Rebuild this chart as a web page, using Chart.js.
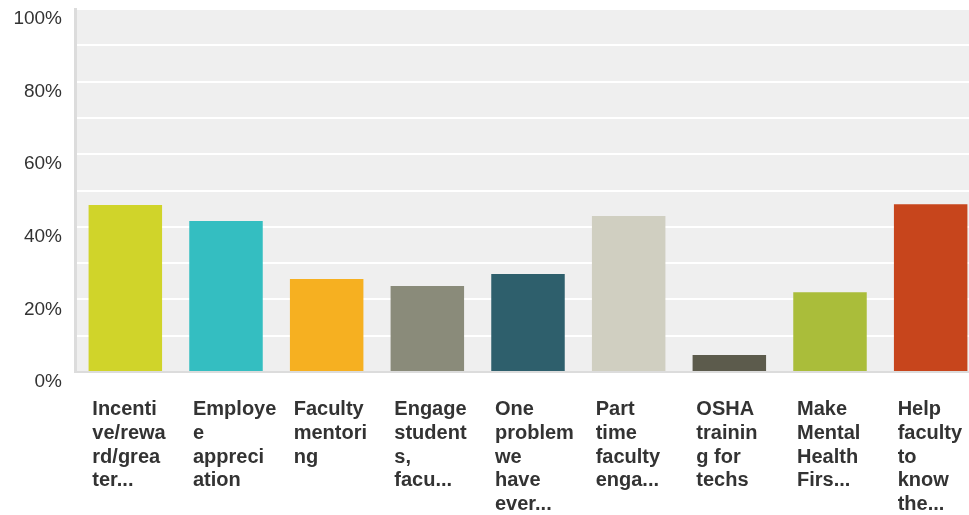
<!DOCTYPE html>
<html>
<head>
<meta charset="utf-8">
<script src="https://cdn.jsdelivr.net/npm/chart.js@4"></script>
<style>
  html, body { margin: 0; padding: 0; background: #fff; overflow: hidden; }
  #wrap { width: 981px; height: 515px; }
</style>
</head>
<body>
<div id="wrap"><canvas id="myChart" width="981" height="515"></canvas></div>
<script>
var categories = [
    ['Incenti', 've/rewa', 'rd/grea', 'ter...'],
    ['Employe', 'e', 'appreci', 'ation'],
    ['Faculty', 'mentori', 'ng'],
    ['Engage', 'student', 's,', 'facu...'],
    ['One', 'problem', 'we', 'have', 'ever...'],
    ['Part', 'time', 'faculty', 'enga...'],
    ['OSHA', 'trainin', 'g for', 'techs'],
    ['Make', 'Mental', 'Health', 'Firs...'],
    ['Help', 'faculty', 'to', 'know', 'the...']
];
var percentValues = [46.0, 41.6, 25.6, 23.7, 27.0, 43.0, 4.7, 22.0, 46.2];
var barColors = ['#d0d42a', '#34bec1', '#f6b021', '#8a8b7a', '#2e5f6c', '#d0cfc1', '#5c5b4c', '#aabd3a', '#c7451c'];
var yTickValues = [0, 20, 40, 60, 80, 100];

var plotBackground = {
    id: 'plotBackground',
    beforeDraw: function(chart) {
        var a = chart.chartArea;
        var c = chart.ctx;
        c.save();
        c.fillStyle = '#efefef';
        c.fillRect(a.left, a.top, a.right - a.left, a.bottom - a.top);
        c.restore();
    }
};

var ctx = document.getElementById('myChart').getContext('2d');
var myChart = new Chart(ctx, {
    type: 'bar',
    data: {
        labels: categories,
        datasets: [{
            data: percentValues,
            backgroundColor: barColors,
            borderWidth: 0,
            barPercentage: 0.73,
            categoryPercentage: 1
        }]
    },
    options: {
        responsive: false,
        animation: false,
        layout: { padding: { top: 9, left: 0, right: 0, bottom: 0 } },
        plugins: { legend: { display: false }, tooltip: { enabled: false } },
        scales: {
            x: {
                grid: { display: false },
                border: { color: '#dcdcdc', width: 2 },
                afterFit: function(s) {
                    s.height = 143;
                    s.paddingLeft = 0;
                    s.paddingRight = 0;
                },
                ticks: {
                    autoSkip: false,
                    maxRotation: 0,
                    align: 'start',
                    labelOffset: -33,
                    padding: 18,
                    color: '#333',
                    font: { family: '"Liberation Sans", Arial, sans-serif', size: 20, weight: 'bold', lineHeight: 1.18 }
                }
            },
            y: {
                min: 0,
                max: 100,
                grid: { color: '#ffffff', lineWidth: 2, drawTicks: false },
                border: { color: '#dcdcdc', width: 3 },
                afterFit: function(s) {
                    s.width = 75;
                    s.paddingTop = 0;
                    s.paddingBottom = 0;
                },
                ticks: {
                    stepSize: 10,
                    padding: 13,
                    labelOffset: 10,
                    color: '#333',
                    font: { family: '"Liberation Sans", Arial, sans-serif', size: 19 },
                    callback: function(v) { return yTickValues.indexOf(v) >= 0 ? v + '%' : ''; }
                }
            }
        }
    },
    plugins: [plotBackground]
});
</script>
</body>
</html>
